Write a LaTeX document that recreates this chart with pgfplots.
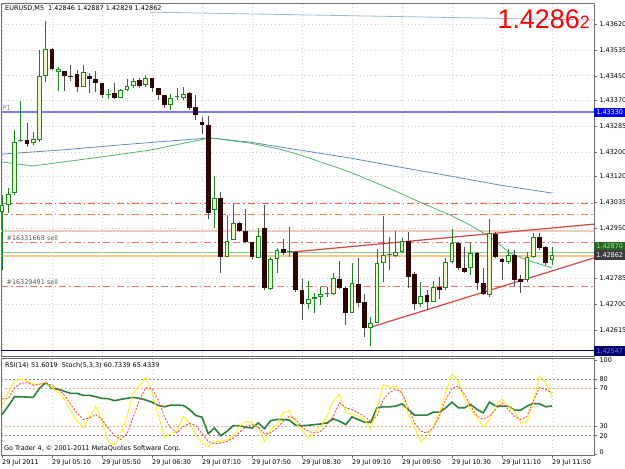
\documentclass[border=0pt]{standalone}
\usepackage{pgfplots}
\pgfplotsset{compat=1.18}
\usepackage{pgfplotstable}
\usepackage{fontspec}
\setmainfont{DejaVu Sans}
\newfontfamily\arialf{Liberation Sans}
\newcommand{\sm}{\fontsize{6.5}{7.5}\selectfont}

\definecolor{framec}{RGB}{110,110,110}
\definecolor{gridc}{RGB}{205,205,205}
\definecolor{bullg}{RGB}{20,135,30}
\definecolor{bullf}{RGB}{235,247,200}
\definecolor{bearb}{RGB}{45,5,5}
\definecolor{bearw}{RGB}{80,80,80}
\definecolor{p1c}{RGB}{120,120,240}
\definecolor{ordA}{RGB}{250,95,55}
\definecolor{ordB}{RGB}{250,130,70}
\definecolor{tanc}{RGB}{236,205,185}
\definecolor{salc}{RGB}{240,110,100}
\definecolor{bidg}{RGB}{140,200,140}
\definecolor{aska}{RGB}{250,200,140}
\definecolor{trendc}{RGB}{210,70,70}
\definecolor{maB}{RGB}{95,140,190}
\definecolor{maG}{RGB}{80,180,110}
\definecolor{maT}{RGB}{160,185,210}
\definecolor{rsic}{RGB}{40,130,60}
\definecolor{stm}{RGB}{255,240,0}
\definecolor{sts}{RGB}{250,60,50}
\definecolor{lvlg}{RGB}{140,140,140}
\definecolor{lvls}{RGB}{230,170,140}
\tikzset{dd/.style={dash pattern=on 7bp off 3bp on 1.5bp off 3bp}}

\pgfplotstableread{
x o h l c
0 1.43003 1.43058 1.42812 1.43026
1 1.43026 1.43081 1.42999 1.43062
2 1.43065 1.43272 1.43058 1.43232
3 1.43235 1.43367 1.43232 1.43237
5 1.43229 1.43265 1.43223 1.43242
6 1.43239 1.43535 1.43232 1.43449
7 1.43449 1.43630 1.43430 1.43538
9 1.43462 1.43479 1.43400 1.43472
13 1.43413 1.43485 1.43413 1.43462
17 1.43387 1.43407 1.43374 1.43390
19 1.43377 1.43407 1.43377 1.43403
20 1.43403 1.43439 1.43400 1.43416
21 1.43416 1.43443 1.43410 1.43433
23 1.43420 1.43453 1.43413 1.43443
27 1.43354 1.43390 1.43338 1.43377
28 1.43380 1.43410 1.43370 1.43384
29 1.43377 1.43413 1.43370 1.43390
34 1.43009 1.43121 1.42950 1.43049
36 1.42855 1.42993 1.42855 1.42907
37 1.42911 1.43029 1.42911 1.42967
41 1.42852 1.42950 1.42852 1.42924
43 1.42750 1.42855 1.42746 1.42848
44 1.42848 1.42884 1.42802 1.42878
46 1.42871 1.42953 1.42855 1.42875
49 1.42700 1.42776 1.42684 1.42717
50 1.42717 1.42737 1.42671 1.42723
51 1.42723 1.42756 1.42697 1.42733
52 1.42732 1.42756 1.42723 1.42735
53 1.42733 1.42802 1.42730 1.42786
56 1.42671 1.42835 1.42671 1.42769
59 1.42622 1.42658 1.42562 1.42638
60 1.42638 1.42881 1.42638 1.42835
61 1.42835 1.42990 1.42773 1.42861
62 1.42860 1.42921 1.42812 1.42863
63 1.42858 1.42940 1.42855 1.42871
64 1.42871 1.42917 1.42868 1.42907
67 1.42700 1.42773 1.42691 1.42727
69 1.42707 1.42776 1.42707 1.42756
71 1.42753 1.42852 1.42746 1.42838
72 1.42838 1.42947 1.42835 1.42901
75 1.42819 1.42901 1.42796 1.42868
78 1.42730 1.42980 1.42723 1.42934
81 1.42838 1.42881 1.42832 1.42861
84 1.42779 1.42871 1.42773 1.42855
85 1.42855 1.42934 1.42852 1.42921
88 1.42846 1.42887 1.42829 1.42862
}\bull

\pgfplotstableread{
x o h l c
4 1.43239 1.43295 1.43216 1.43226
8 1.43538 1.43541 1.43469 1.43472
10 1.43466 1.43466 1.43400 1.43449
11 1.43448 1.43485 1.43433 1.43446
12 1.43456 1.43469 1.43397 1.43413
14 1.43449 1.43459 1.43393 1.43439
15 1.43439 1.43466 1.43397 1.43426
16 1.43426 1.43426 1.43377 1.43387
18 1.43393 1.43426 1.43374 1.43377
22 1.43436 1.43443 1.43410 1.43416
24 1.43443 1.43443 1.43397 1.43410
25 1.43410 1.43410 1.43370 1.43387
26 1.43387 1.43387 1.43344 1.43354
30 1.43393 1.43397 1.43338 1.43344
31 1.43347 1.43387 1.43305 1.43321
32 1.43298 1.43315 1.43259 1.43290
33 1.43288 1.43318 1.42980 1.42999
35 1.43049 1.43068 1.42802 1.42855
38 1.42967 1.42970 1.42937 1.42940
39 1.42940 1.43012 1.42901 1.42904
40 1.42904 1.42904 1.42848 1.42855
42 1.42950 1.43026 1.42746 1.42753
45 1.42881 1.42914 1.42861 1.42868
47 1.42871 1.42875 1.42740 1.42746
48 1.42746 1.42783 1.42648 1.42700
54 1.42783 1.42842 1.42750 1.42753
55 1.42753 1.42756 1.42631 1.42671
57 1.42766 1.42852 1.42691 1.42704
58 1.42707 1.42733 1.42592 1.42622
65 1.42907 1.42937 1.42753 1.42789
66 1.42799 1.42806 1.42681 1.42700
68 1.42730 1.42746 1.42681 1.42707
70 1.42756 1.42789 1.42717 1.42746
73 1.42901 1.42904 1.42812 1.42819
74 1.42819 1.42888 1.42802 1.42806
76 1.42868 1.42871 1.42746 1.42769
77 1.42769 1.42819 1.42730 1.42733
79 1.42930 1.42937 1.42852 1.42855
80 1.42848 1.42852 1.42779 1.42838
82 1.42861 1.42878 1.42760 1.42779
83 1.42783 1.42796 1.42737 1.42773
86 1.42921 1.42934 1.42878 1.42884
87 1.42888 1.42891 1.42829 1.42835
}\bear

\pgfplotstableread{
x r s g
0 42.5 51.5 59.3
1 51.5 65.7 59.3
2 61.4 78.2 71.1
3 61.4 80 75.7
4 61 78.2 76.4
5 60.7 74.7 73.6
6 70.4 74.7 74.7
7 76.4 76.4 75.7
8 70.4 71.1 73.6
9 69.3 65.7 69.3
10 67.2 58.6 62.9
11 65 46.1 53.2
12 65 35.4 44.3
13 62.9 28.2 37.2
14 62.9 39 39
15 61.4 51.5 42.5
16 59.7 35.4 37.2
17 59.3 14 28.2
18 57.2 10 20
19 58.6 20 16
20 59.7 40.7 22
21 60.7 65.7 40
22 59.7 72.9 58
23 57.9 81.8 71.1
24 55.7 65.7 70
25 52.2 42.5 58
26 50.7 18.3 40
27 52.5 22.2 28.2
28 52.5 24.7 23
29 52.2 40.7 30
30 47.9 33.6 33
31 41.5 21.1 31
32 39.7 12.2 22
33 22.2 8.6 14
34 28.2 14 11.5
35 20 14 12.2
36 24.7 15.8 14
37 30.7 19.3 17.5
38 30.7 30 23.6
39 29 35.4 29.3
40 28.2 33.6 31.8
41 33.6 28.2 29.3
42 27.5 14 22.2
43 36.1 26.5 22.9
44 37.2 31.8 28.2
45 37.2 44.3 35.4
46 36.5 46.8 40.7
47 31.1 33.6 37.2
48 30.7 26 29
49 31.1 17.5 24.7
50 31.8 23.6 22.9
51 32.5 30 24.7
52 33.6 40.7 31.8
53 37.9 56.8 40.7
54 35.4 64 55
55 31.8 44.3 49.7
56 40 42.5 47.9
57 37.2 40.7 44.3
58 34.3 37.2 40.7
59 34.3 26.5 35.4
60 49.7 47.9 40.7
61 50.7 74.7 58.6
62 50.7 71.1 65.7
63 51.4 72.9 69.3
64 53.9 65.7 65.7
65 47.9 42.5 49.7
66 41.8 28.2 33.6
67 41.8 14 24.7
68 41.8 19.3 22.9
69 45 30 28.2
70 45 44.3 40.7
71 49.7 65.7 58.6
72 55.7 85.4 70
73 49.7 78.2 72.9
74 49.7 58.6 64
75 53.2 47.9 51.5
76 47.9 39 40.7
77 44.3 29.3 37.2
78 55.7 37.2 40.7
79 51.4 51.5 47.9
80 51.4 59.3 55
81 51.4 51.5 47.9
82 47.2 46.1 40.7
83 47.2 33.6 37.2
84 51.4 34.3 40.7
85 54.3 55 56.8
86 53.9 83.6 71.1
87 50.7 76.4 69.3
88 51.6 60.7 65.4
}\ind

\begin{document}
\begin{tikzpicture}
\path[use as bounding box, fill=white] (0,0) rectangle (625bp,469bp);

% ---------------- main price panel ----------------
\begin{axis}[
  at={(1bp,113bp)}, anchor=south west,
  width=593bp, height=353bp, scale only axis,
  xmin=-0.16, xmax=94.72, ymin=1.42530, ymax=1.43689,
  clip=false,
  axis line style={draw=framec, line width=0.6bp},
  xtick={0,8,...,88}, xticklabels={},
  ytick={1.43620,1.43535,1.43450,1.43370,1.43285,1.43200,1.43120,1.43035,1.42950,1.42785,1.42700,1.42615},
  scaled y ticks=false,
  ytick pos=right, yticklabel pos=right,
  tick align=outside, major tick length=3bp,
  xtick style={draw=none},
  ytick style={draw=framec, line width=0.5bp},
  yticklabel style={font=\sm, anchor=west, xshift=-1bp, text=black,
    /pgf/number format/.cd, fixed, fixed zerofill, precision=5, assume math mode=true},
  grid=major,
  major grid style={draw=gridc, dash pattern=on 0.7bp off 3bp, line width=0.6bp},
]
% long-period MA near the top
\addplot[maT, line width=0.8bp] coordinates {(23.68,1.43659) (94.72,1.43633)};
% pivot P1
\addplot[p1c, line width=1.8bp] coordinates {(-0.16,1.43330) (94.72,1.43330)};
% order / level lines
\addplot[ordA, dd, line width=0.9bp] coordinates {(-0.16,1.43032) (94.72,1.43032)};
\addplot[ordB, dd, line width=0.9bp] coordinates {(-0.16,1.42996) (94.72,1.42996)};
\addplot[tanc, line width=1.8bp] coordinates {(-0.16,1.42941) (94.72,1.42941)};
\addplot[salc, dd, line width=0.9bp] coordinates {(-0.16,1.42903) (94.72,1.42903)};
\addplot[bidg, line width=1.5bp] coordinates {(-0.16,1.42870) (94.72,1.42870)};
\addplot[aska, line width=1.3bp] coordinates {(-0.16,1.42858) (94.72,1.42858)};
\addplot[salc, dd, line width=0.9bp] coordinates {(-0.16,1.42757) (94.72,1.42757)};
\addplot[blue!40!black, line width=0.9bp] coordinates {(-0.16,1.42547) (94.72,1.42547)};
% moving averages
\addplot[maB, line width=0.8bp] coordinates {(0,1.43193) (9.28,1.43206) (18.88,1.43223) (26.88,1.43236) (33.28,1.43246) (39.68,1.43232) (47.68,1.43206) (55.68,1.43180) (63.68,1.43150) (71.68,1.43121) (79.68,1.43091) (88,1.43065)};
\addplot[maG, line width=0.8bp] coordinates {(0,1.43167) (4.96,1.43154) (15.68,1.43183) (23.68,1.43206) (33.28,1.43246) (39.68,1.43229) (44.48,1.43209) (47.68,1.43190) (55.68,1.43134) (62.56,1.43075) (66.88,1.43035) (71.68,1.42993) (74.88,1.42960) (78.08,1.42921) (81.28,1.42868) (84,1.42845) (88,1.42819)};
% trend lines
\addplot[trendc, line width=1.2bp] coordinates {(46.24,1.42871) (94.72,1.42963)};
\addplot[trendc, line width=1.2bp] coordinates {(59.04,1.42625) (94.72,1.42852)};
% wicks
\addplot[draw=none, mark=none, error bars/.cd, y dir=plus, y explicit, error mark=none,
  error bar style={draw=bullg, solid, line width=1bp}]
  table[x=x, y=l, y error expr=\thisrow{h}-\thisrow{l}] {\bull};
\addplot[draw=none, mark=none, error bars/.cd, y dir=plus, y explicit, error mark=none,
  error bar style={draw=bearw, solid, line width=1bp}]
  table[x=x, y=l, y error expr=\thisrow{h}-\thisrow{l}] {\bear};
% bodies
\addplot[draw=none, mark=none, error bars/.cd, y dir=plus, y explicit, error mark=none,
  error bar style={draw=bullg, solid, line width=4.6bp}]
  table[x=x, y=o, y error expr={max(\thisrow{c}-\thisrow{o},0.00004)}] {\bull};
\addplot[draw=none, mark=none, error bars/.cd, y dir=plus, y explicit, error mark=none,
  error bar style={draw=bullf, solid, line width=2.6bp}]
  table[x=x, y expr=\thisrow{o}+0.000033, y error expr={max(\thisrow{c}-\thisrow{o}-0.000066,0)}] {\bull};
\addplot[draw=none, mark=none, error bars/.cd, y dir=plus, y explicit, error mark=none,
  error bar style={draw=bearb, solid, line width=4.6bp}]
  table[x=x, y=c, y error expr={max(\thisrow{o}-\thisrow{c},0.00004)}] {\bear};
% texts
\node[anchor=north west, inner sep=0, font=\sm, text=black] at (rel axis cs:0,1) [xshift=4bp, yshift=-2bp] {EURUSD,M5\ \ 1.42846 1.42887 1.42829 1.42862};
\node[anchor=north east, inner sep=0, text=red] at (rel axis cs:1,1) [xshift=-4bp, yshift=-7bp] {\arialf\fontsize{27}{27}\selectfont 1.4286{\fontsize{18}{18}\selectfont 2}};
\node[anchor=south west, inner sep=0, font=\sm, text=gray] at (axis cs:0.1,1.43330) [yshift=2bp] {P1};
\node[anchor=south west, inner sep=0, font=\sm, text=black!65] at (axis cs:0.7,1.42903) [yshift=2bp] {\#16331668 sell};
\node[anchor=south west, inner sep=0, font=\sm, text=black!65] at (axis cs:0.7,1.42757) [yshift=2bp] {\#16329491 sell};
% price tags
\node[anchor=west, fill={rgb,255:red,0;green,0;blue,235}, text=white, font=\sm, inner sep=0, minimum width=31bp, minimum height=9.5bp] at (axis cs:94.72,1.43330) {1.43330};
\node[anchor=west, fill={rgb,255:red,35;green,105;blue,35}, text={rgb,255:red,160;green,225;blue,160}, font=\sm, inner sep=0, minimum width=31bp, minimum height=9.5bp] at (axis cs:94.72,1.42890) {1.42870};
\node[anchor=west, fill={rgb,255:red,60;green,60;blue,60}, text=white, font=\sm, inner sep=0, minimum width=31bp, minimum height=9.5bp] at (axis cs:94.72,1.42862) {1.42862};
\node[anchor=west, fill={rgb,255:red,0;green,0;blue,110}, text={rgb,255:red,110;green,110;blue,255}, font=\sm, inner sep=0, minimum width=31bp, minimum height=9.5bp] at (axis cs:94.72,1.42547) {1.42547};
\end{axis}

% ---------------- indicator panel ----------------
\begin{axis}[
  at={(1bp,13.5bp)}, anchor=south west,
  width=593bp, height=97bp, scale only axis,
  xmin=-0.16, xmax=94.72, ymin=-1, ymax=102,
  clip=false,
  axis line style={draw=framec, line width=0.6bp},
  xtick={0,8,...,88},
  xticklabels={29 Jul 2011, 29 Jul 05:10, 29 Jul 05:50, 29 Jul 06:30, 29 Jul 07:10, 29 Jul 07:50, 29 Jul 08:30, 29 Jul 09:10, 29 Jul 09:50, 29 Jul 10:30, 29 Jul 11:10, 29 Jul 11:50},
  xtick pos=bottom,
  ytick={0,20,30,70,80,100},
  yticklabels={\raisebox{4bp}{0},20,30,70,80,\raisebox{-4.5bp}{100}},
  ytick pos=right, yticklabel pos=right,
  tick align=outside, major tick length=3bp,
  tick style={draw=framec, line width=0.5bp},
  xticklabel style={font=\sm, anchor=north west, xshift=-1bp, inner sep=1bp, text=black},
  yticklabel style={font=\sm, anchor=west, xshift=-1bp, text=black},
  xmajorgrids,
  major grid style={draw=gridc, dash pattern=on 0.7bp off 3bp, line width=0.6bp},
]
\addplot[lvlg, dash pattern=on 2bp off 2bp, line width=0.7bp] coordinates {(-0.16,80) (94.72,80)};
\addplot[lvls, dash pattern=on 2bp off 2bp, line width=0.7bp] coordinates {(-0.16,70) (94.72,70)};
\addplot[lvls, dash pattern=on 2bp off 2bp, line width=0.7bp] coordinates {(-0.16,30) (94.72,30)};
\addplot[lvlg, dash pattern=on 2bp off 2bp, line width=0.7bp] coordinates {(-0.16,20) (94.72,20)};
\addplot[rsic, line width=1.6bp] table[x=x, y=r] {\ind};
\addplot[stm, line width=0.8bp] table[x=x, y=s] {\ind};
\addplot[sts, line width=0.8bp, dash pattern=on 2bp off 1.5bp] table[x=x, y=g] {\ind};
\node[anchor=north west, inner sep=0, font=\sm, text=black] at (rel axis cs:0,1) [xshift=4bp, yshift=-4bp] {RSI(14) 51.6019\ \ Stoch(5,3,3) 60.7339 65.4339};
\node[anchor=south west, inner sep=0, font=\sm, text=black] at (rel axis cs:0,0) [xshift=3bp, yshift=3bp] {Go Trader 4, © 2001-2011 MetaQuotes Software Corp.};
\end{axis}
\end{tikzpicture}
\end{document}
